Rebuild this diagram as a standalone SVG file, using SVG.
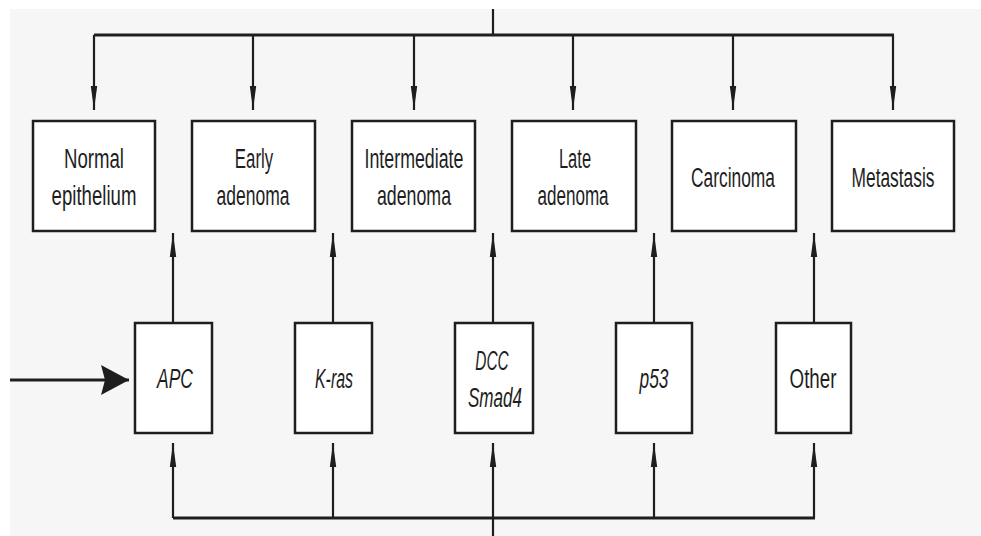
<svg xmlns="http://www.w3.org/2000/svg" width="981" height="536" viewBox="0 0 981 536">
  <style>
    .box { fill: #ffffff; stroke: #1e1e1e; stroke-width: 2.5; }
    .ln { fill: none; stroke: #1e1e1e; stroke-width: 2.2; }
    .lnb { fill: none; stroke: #1e1e1e; stroke-width: 3; }
    .t { font-family: "Liberation Sans", Arial, sans-serif; font-size: 28px; fill: #1e1e1e; text-anchor: middle; }
    .i { font-style: italic; }
  </style>
  <defs>
    <marker id="sm" markerUnits="userSpaceOnUse" viewBox="0 0 24 8" refX="24" refY="4" markerWidth="24" markerHeight="8" orient="auto">
      <path d="M0,0.8 L24,4 L0,7.2 Z" fill="#1e1e1e"/>
    </marker>
    <marker id="big" markerUnits="userSpaceOnUse" viewBox="0 0 30 32" refX="28" refY="16" markerWidth="30" markerHeight="32" orient="auto">
      <path d="M0,1 L28,16 L0,31 L4,16 Z" fill="#1e1e1e"/>
    </marker>
  </defs>
  <rect x="0" y="0" width="981" height="536" fill="#ffffff"/>
  <rect x="10" y="9" width="971" height="527" fill="#f6f6f6"/>

  <g id="connectors">
    <line class="ln" x1="493" y1="9" x2="493" y2="35"/>
    <line class="lnb" x1="94" y1="35" x2="894" y2="35"/>
    <line class="ln" x1="94" y1="35" x2="94" y2="110" marker-end="url(#sm)"/>
    <line class="ln" x1="253" y1="35" x2="253" y2="110" marker-end="url(#sm)"/>
    <line class="ln" x1="414" y1="35" x2="414" y2="110" marker-end="url(#sm)"/>
    <line class="ln" x1="573" y1="35" x2="573" y2="110" marker-end="url(#sm)"/>
    <line class="ln" x1="733" y1="35" x2="733" y2="110" marker-end="url(#sm)"/>
    <line class="ln" x1="893" y1="35" x2="893" y2="110" marker-end="url(#sm)"/>

    <line class="ln" x1="173" y1="323" x2="173" y2="233" marker-end="url(#sm)"/>
    <line class="ln" x1="333" y1="323" x2="333" y2="233" marker-end="url(#sm)"/>
    <line class="ln" x1="493" y1="323" x2="493" y2="233" marker-end="url(#sm)"/>
    <line class="ln" x1="654" y1="323" x2="654" y2="233" marker-end="url(#sm)"/>
    <line class="ln" x1="814" y1="323" x2="814" y2="233" marker-end="url(#sm)"/>

    <line class="lnb" x1="173" y1="518" x2="815" y2="518"/>
    <line class="ln" x1="493" y1="536" x2="493" y2="518"/>
    <line class="ln" x1="173" y1="518" x2="173" y2="443" marker-end="url(#sm)"/>
    <line class="ln" x1="333" y1="518" x2="333" y2="443" marker-end="url(#sm)"/>
    <line class="ln" x1="493" y1="518" x2="493" y2="443" marker-end="url(#sm)"/>
    <line class="ln" x1="654" y1="518" x2="654" y2="443" marker-end="url(#sm)"/>
    <line class="ln" x1="814" y1="518" x2="814" y2="443" marker-end="url(#sm)"/>

    <line class="lnb" x1="10" y1="380" x2="129" y2="380" marker-end="url(#big)"/>
  </g>

  <g id="normal-epithelium">
    <rect class="box" x="33" y="121" width="122" height="110"/>
    <text class="t" transform="translate(94,168) scale(0.665,1)">Normal</text>
    <text class="t" transform="translate(94,205) scale(0.665,1)">epithelium</text>
  </g>
  <g id="early-adenoma">
    <rect class="box" x="192" y="121" width="123" height="110"/>
    <text class="t" transform="translate(254,168) scale(0.6,1)">Early</text>
    <text class="t" transform="translate(253,205) scale(0.625,1)">adenoma</text>
  </g>
  <g id="intermediate-adenoma">
    <rect class="box" x="352" y="121" width="123" height="110"/>
    <text class="t" transform="translate(414,168) scale(0.636,1)">Intermediate</text>
    <text class="t" transform="translate(414,205) scale(0.635,1)">adenoma</text>
  </g>
  <g id="late-adenoma">
    <rect class="box" x="512" y="121" width="124" height="110"/>
    <text class="t" transform="translate(575,168) scale(0.59,1)">Late</text>
    <text class="t" transform="translate(573,205) scale(0.61,1)">adenoma</text>
  </g>
  <g id="carcinoma">
    <rect class="box" x="672" y="121" width="124" height="110"/>
    <text class="t" transform="translate(733,187) scale(0.62,1)">Carcinoma</text>
  </g>
  <g id="metastasis">
    <rect class="box" x="832" y="121" width="122" height="110"/>
    <text class="t" transform="translate(893,187) scale(0.62,1)">Metastasis</text>
  </g>

  <g id="apc">
    <rect class="box" x="135" y="323" width="77" height="110"/>
    <text class="t i" transform="translate(175,388) scale(0.625,1)">APC</text>
  </g>
  <g id="k-ras">
    <rect class="box" x="295" y="323" width="77" height="110"/>
    <text class="t i" transform="translate(334,388) scale(0.57,1)">K-ras</text>
  </g>
  <g id="dcc-smad4">
    <rect class="box" x="455" y="323" width="78" height="110"/>
    <text class="t i" transform="translate(492,370) scale(0.55,1)">DCC</text>
    <text class="t i" transform="translate(495,407) scale(0.61,1)">Smad4</text>
  </g>
  <g id="p53">
    <rect class="box" x="616" y="323" width="76" height="110"/>
    <text class="t i" transform="translate(654,388) scale(0.62,1)">p53</text>
  </g>
  <g id="other">
    <rect class="box" x="776" y="323" width="75" height="110"/>
    <text class="t" transform="translate(813,388) scale(0.67,1)">Other</text>
  </g>
</svg>
